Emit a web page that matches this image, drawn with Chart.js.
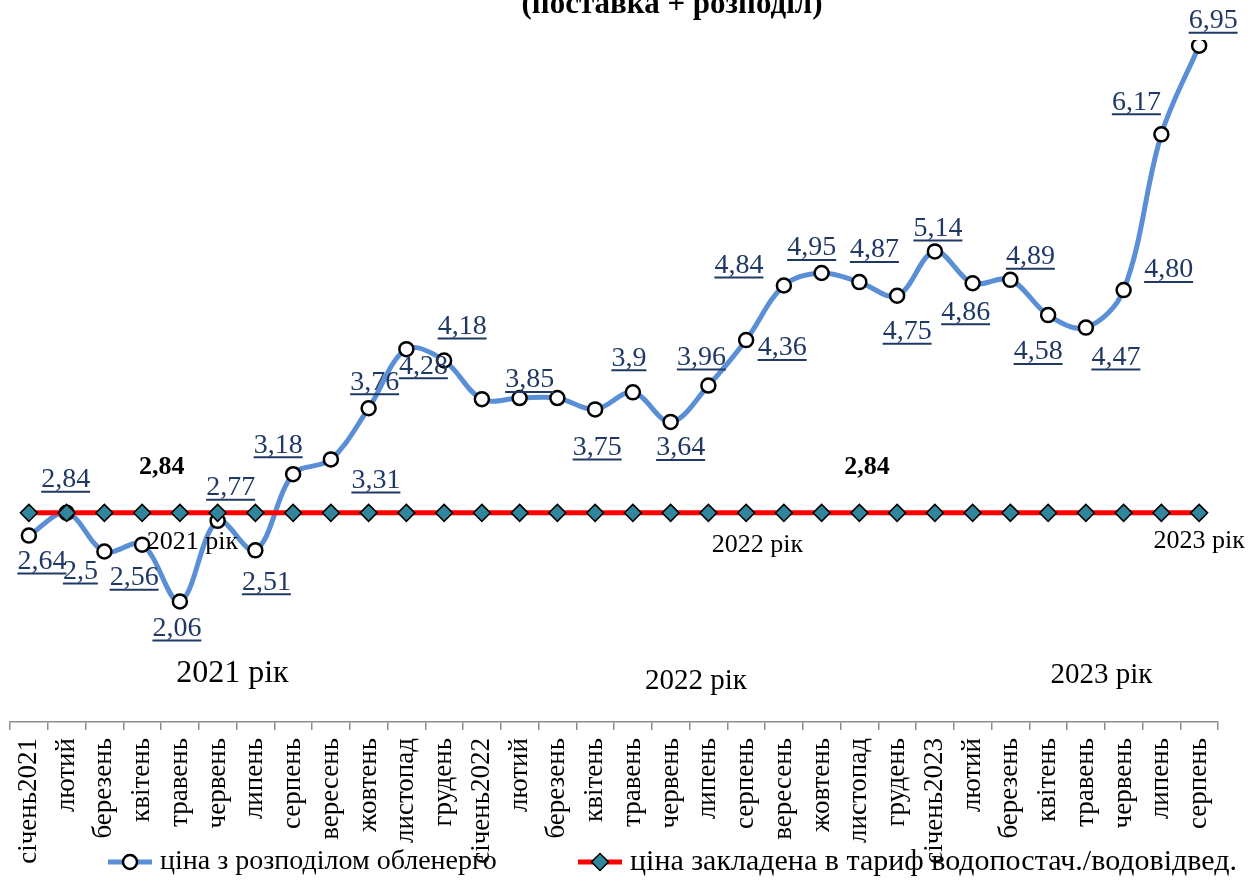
<!DOCTYPE html>
<html>
<head>
<meta charset="utf-8">
<script src="https://cdn.jsdelivr.net/npm/chart.js@4.4.0/dist/chart.umd.min.js"></script>
<style>
  html, body { margin: 0; padding: 0; background: #fff; }
  #wrap { width: 1252px; height: 882px; position: relative; }
</style>
</head>
<body>
<div id="wrap"><canvas id="chart01"></canvas></div>
<script>
// months, Jan 2021 .. Aug 2023
var months = ['січень2021', 'лютий', 'березень', 'квітень', 'травень', 'червень', 'липень', 'серпень',
  'вересень', 'жовтень', 'листопад', 'грудень', 'січень2022', 'лютий', 'березень', 'квітень',
  'травень', 'червень', 'липень', 'серпень', 'вересень', 'жовтень', 'листопад', 'грудень',
  'січень2023', 'лютий', 'березень', 'квітень', 'травень', 'червень', 'липень', 'серпень']

// ціна з розподілом обленерго
var priceOblenergo = [2.64, 2.84, 2.5, 2.56, 2.06, 2.77, 2.51, 3.18, 3.31, 3.76, 4.28, 4.18,
  3.84, 3.85, 3.85, 3.75, 3.9, 3.64, 3.96, 4.36, 4.84, 4.95, 4.87, 4.75,
  5.14, 4.86, 4.89, 4.58, 4.47, 4.80, 6.17, 6.95]

// labels as printed on the chart (null = no label)
var priceLabels = ['2,64', '2,84', '2,5', '2,56', '2,06', '2,77', '2,51', '3,18', '3,31', '3,76', '4,28', '4,18',
  null, '3,85', null, '3,75', '3,9', '3,64', '3,96', '4,36', '4,84', '4,95', '4,87', '4,75',
  '5,14', '4,86', '4,89', '4,58', '4,47', '4,80', '6,17', '6,95']

// ціна закладена в тариф
var tariffValue = 2.84
var priceTariff = months.map(function () { return tariffValue })

var seriesNames = ['ціна з розподілом обленерго', 'ціна закладена в тариф водопостач./водовідвед.']
var titleText = '(поставка + розподіл)'

// label offsets from the point (px)
var labelOffsets = [[13, 26], [-1, -33], [-24, 20], [-8, 33], [-3, 27], [13, -33], [11, 32], [-15, -29],
  [45, 21], [6, -26], [17, 17], [18, -34], [0, 0], [10, -18], [0, 0], [2, 38],
  [-4, -34], [10, 26], [-7, -28], [36, 8], [-45, -20], [-10, -25], [15, -32], [10, 36],
  [3, -23], [-7, 29], [20, -23], [-10, 37], [30, 30], [45, -20], [-25, -32], [14, -25]]

// free text on the plot: [text, index, value, font]
var notes = [
  ['2021 рік', 5.39, 1.43, '32px "Liberation Serif"'],
  ['2022 рік', 17.67, 1.36, '29px "Liberation Serif"'],
  ['2023 рік', 28.41, 1.41, '29px "Liberation Serif"'],
  ['2021 рік', 4.33, 2.58, '26px "Liberation Serif"'],
  ['2022 рік', 19.3, 2.56, '26px "Liberation Serif"'],
  ['2023 рік', 31, 2.59, '26px "Liberation Serif"'],
  ['2,84', 3.52, 3.24, 'bold 26px "Liberation Serif"'],
  ['2,84', 22.2, 3.24, 'bold 26px "Liberation Serif"']
]

var BLUE = '#5A8FD6'
var RED = '#FF0000'
var TEAL = '#31859C'
var NAVY = '#1F3864'

var extras = {
  id: 'extras',
  afterDatasetsDraw: function (chart) {
    var ctx = chart.ctx
    var xs = chart.scales.x
    var ys = chart.scales.y
    ctx.save()

    // data labels, underlined
    var meta = chart.getDatasetMeta(0)
    ctx.font = '28px "Liberation Serif"'
    ctx.fillStyle = NAVY
    ctx.strokeStyle = NAVY
    ctx.lineWidth = 2
    ctx.textAlign = 'center'
    ctx.textBaseline = 'middle'
    meta.data.forEach(function (pt, i) {
      if (!priceLabels[i]) return
      var x = pt.x + labelOffsets[i][0]
      var y = pt.y + labelOffsets[i][1]
      ctx.fillText(priceLabels[i], x, y)
      var w = ctx.measureText(priceLabels[i]).width
      ctx.beginPath()
      ctx.moveTo(x - w / 2, y + 12)
      ctx.lineTo(x + w / 2, y + 12)
      ctx.stroke()
    })

    // notes
    ctx.fillStyle = '#000'
    notes.forEach(function (n) {
      ctx.font = n[3]
      ctx.fillText(n[0], xs.getPixelForValue(n[1]), ys.getPixelForValue(n[2]))
    })

    // title (cut at the top)
    ctx.font = 'bold 31px "Liberation Serif"'
    ctx.textBaseline = 'alphabetic'
    ctx.fillText(titleText, 672, 13)

    // legend
    var ly = 862
    ctx.textAlign = 'left'
    ctx.textBaseline = 'middle'
    ctx.lineWidth = 5
    ctx.strokeStyle = BLUE
    ctx.beginPath(); ctx.moveTo(108, ly); ctx.lineTo(152, ly); ctx.stroke()
    ctx.fillStyle = '#fff'; ctx.strokeStyle = '#000'; ctx.lineWidth = 2.5
    ctx.beginPath(); ctx.arc(130, ly, 7, 0, Math.PI * 2); ctx.fill(); ctx.stroke()
    ctx.fillStyle = '#000'
    ctx.font = '28px "Liberation Serif"'
    ctx.fillText(seriesNames[0], 160, ly)

    ctx.lineWidth = 5
    ctx.strokeStyle = RED
    ctx.beginPath(); ctx.moveTo(578, ly); ctx.lineTo(622, ly); ctx.stroke()
    ctx.fillStyle = TEAL; ctx.strokeStyle = '#000'; ctx.lineWidth = 1.5
    ctx.beginPath()
    ctx.moveTo(600 - 8.5, ly); ctx.lineTo(600, ly - 8.5); ctx.lineTo(600 + 8.5, ly); ctx.lineTo(600, ly + 8.5)
    ctx.closePath(); ctx.fill(); ctx.stroke()
    ctx.fillStyle = '#000'
    ctx.font = '30px "Liberation Serif"'
    ctx.fillText(seriesNames[1], 630, ly)

    ctx.restore()
  }
}

function chartLine (chart_id) {
  var el = document.getElementById(chart_id)
  var ctx = el.getContext('2d')

  return new Chart(ctx, {
    type: 'line',
    data: {
      labels: months,
      datasets: [{
        label: seriesNames[0],
        data: priceOblenergo,
        borderColor: BLUE,
        borderWidth: 5,
        tension: 0.35,
        pointRadius: 7,
        pointBackgroundColor: '#fff',
        pointBorderColor: '#000',
        pointBorderWidth: 2.5,
        order: 2
      }, {
        label: seriesNames[1],
        data: priceTariff,
        borderColor: RED,
        borderWidth: 5,
        pointStyle: 'rectRot',
        pointRadius: 8.5,
        pointBackgroundColor: TEAL,
        pointBorderColor: '#000',
        pointBorderWidth: 1.5,
        order: 1
      }]
    },
    options: {
      responsive: true,
      maintainAspectRatio: false,
      animation: false,
      layout: { padding: { top: 40, left: 6, right: 34, bottom: 0 } },
      plugins: {
        legend: { display: false },
        tooltip: { enabled: false },
        title: { display: false }
      },
      scales: {
        x: {
          offset: true,
          afterFit: function (scale) { scale.height = 160 },
          grid: {
            offset: true,
            drawOnChartArea: false,
            drawTicks: true,
            tickLength: 8,
            color: '#8C8C8C',
            lineWidth: 1.5
          },
          border: { display: true, color: '#8C8C8C', width: 1.5 },
          ticks: {
            autoSkip: false,
            maxRotation: 90,
            minRotation: 90,
            padding: 8,
            color: '#000',
            font: { family: 'Liberation Serif', size: 27 }
          }
        },
        y: {
          display: false,
          min: 1,
          max: 7
        }
      }
    },
    plugins: [extras]
  })
}

chartLine('chart01')
</script>
</body>
</html>
